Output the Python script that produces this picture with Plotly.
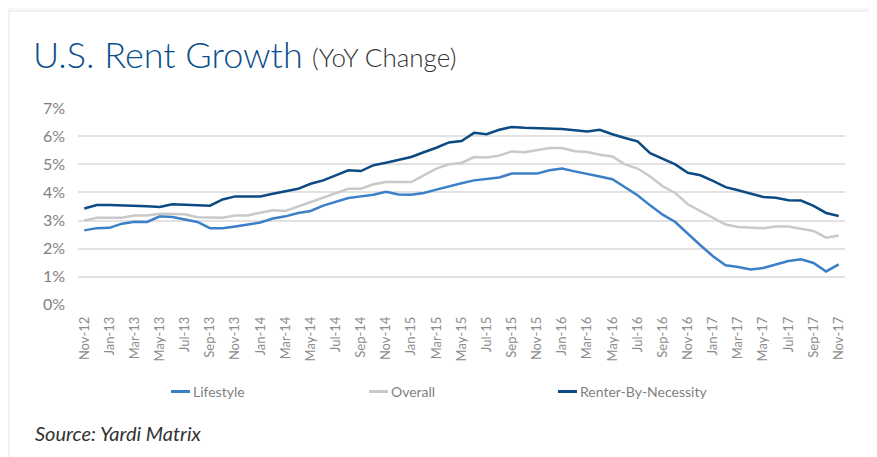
import pandas as pd
import plotly.graph_objects as go

months = list(pd.date_range("2012-11-01", periods=61, freq="MS").strftime("%b-%y"))
tick_labels = months[::2]

lifestyle = [2.65, 2.73, 2.74, 2.89, 2.96, 2.95, 3.15, 3.13, 3.04, 2.95,
             2.73, 2.73, 2.79, 2.86, 2.93, 3.07, 3.15, 3.27, 3.34, 3.53,
             3.66, 3.80, 3.86, 3.92, 4.02, 3.93, 3.92, 3.98, 4.10, 4.22,
             4.33, 4.43, 4.48, 4.53, 4.67, 4.67, 4.67, 4.79, 4.85, 4.75,
             4.67, 4.57, 4.47, 4.19, 3.90, 3.54, 3.21, 2.95, 2.53, 2.12,
             1.73, 1.41, 1.35, 1.26, 1.31, 1.43, 1.56, 1.62, 1.49, 1.19, 1.44]

overall = [3.00, 3.10, 3.10, 3.10, 3.18, 3.18, 3.24, 3.24, 3.22, 3.12,
           3.10, 3.10, 3.18, 3.18, 3.28, 3.37, 3.34, 3.50, 3.66, 3.81,
           3.98, 4.13, 4.13, 4.29, 4.37, 4.37, 4.37, 4.61, 4.85, 5.00,
           5.05, 5.26, 5.24, 5.31, 5.46, 5.43, 5.50, 5.58, 5.58, 5.47,
           5.44, 5.34, 5.28, 5.00, 4.85, 4.57, 4.22, 3.98, 3.58, 3.34,
           3.10, 2.86, 2.77, 2.75, 2.73, 2.79, 2.79, 2.71, 2.63, 2.39, 2.47]

rbn = [3.43, 3.55, 3.55, 3.54, 3.53, 3.51, 3.48, 3.58, 3.56, 3.55,
       3.53, 3.75, 3.86, 3.86, 3.86, 3.95, 4.04, 4.13, 4.31, 4.43,
       4.61, 4.79, 4.76, 4.97, 5.06, 5.15, 5.26, 5.43, 5.59, 5.78,
       5.83, 6.12, 6.07, 6.23, 6.33, 6.30, 6.28, 6.27, 6.26, 6.21,
       6.17, 6.23, 6.07, 5.94, 5.82, 5.40, 5.19, 5.00, 4.70, 4.61,
       4.41, 4.19, 4.08, 3.96, 3.84, 3.81, 3.72, 3.71, 3.52, 3.27, 3.16]

series_names = ["Lifestyle", "Overall", "Renter-By-Necessity"]
series_colors = ["#3b7fc9", "#c9c9c9", "#0b4a82"]

OFF = 8  # page body margin
W, H = 877 - OFF, 457 - OFF
ML, MR, MT, MB = 78 - OFF, 32, 108 - OFF, 152
PW, PH = W - ML - MR, H - MT - MB


def px(x):
    return (x - OFF - ML) / PW


def py(y):
    return (H - MB - (y - OFF)) / PH


fig = go.Figure()
for name, vals, col in zip(series_names, [lifestyle, overall, rbn], series_colors):
    fig.add_trace(go.Scatter(x=months, y=vals, mode="lines", name=name,
                             line=dict(color=col, width=2.5), showlegend=False))

FONT = "Lato"
shapes = [
    dict(type="rect", xref="paper", yref="paper", x0=px(9), x1=px(874), y0=py(470), y1=py(11),
         fillcolor="white", line=dict(color="#e6e6e6", width=1), layer="below"),
]
annotations = [
    dict(xref="paper", yref="paper", x=px(31), y=py(54), xanchor="left", yanchor="middle",
         text="U.S. Rent Growth", showarrow=False,
         font=dict(family=FONT, size=36, color="#0b4f8c", weight=300)),
    dict(xref="paper", yref="paper", x=px(310), y=py(57), xanchor="left", yanchor="middle",
         text="(YoY Change)", showarrow=False,
         font=dict(family=FONT, size=26, color="#333333", weight=300)),
    dict(xref="paper", yref="paper", x=px(33), y=py(433), xanchor="left", yanchor="middle",
         text="<i>Source: Yardi Matrix</i>", showarrow=False,
         font=dict(family=FONT, size=20, color="#333333")),
]
leg_x = [171, 369, 558]
for lx, name, col in zip(leg_x, series_names, series_colors):
    shapes.append(dict(type="line", xref="paper", yref="paper", x0=px(lx), x1=px(lx + 19),
                       y0=py(391.5), y1=py(391.5), line=dict(color=col, width=3)))
    annotations.append(dict(xref="paper", yref="paper", x=px(lx + 20), y=py(391.5),
                            xanchor="left", yanchor="middle", text=name, showarrow=False,
                            font=dict(family=FONT, size=14, color="#7f7f7f")))

fig.update_layout(
    width=W, height=H,
    margin=dict(l=ML, r=MR, t=MT, b=MB, pad=0),
    paper_bgcolor="#f7f7f7", plot_bgcolor="white",
    shapes=shapes, annotations=annotations,
    xaxis=dict(type="category", categoryorder="array", categoryarray=months,
               range=[-0.5, 60.5], tickmode="array", tickvals=tick_labels, ticktext=tick_labels,
               tickangle=-90, showgrid=False, zeroline=False, showline=False, ticks="",
               ticklabelstandoff=8,
               tickfont=dict(family=FONT, size=13, color="#8c8c8c")),
    yaxis=dict(range=[-0.005, 7.005], dtick=1, tick0=0, ticksuffix="%",
               gridcolor="#e2e2e2", gridwidth=1.5, zeroline=False, showline=False, ticks="",
               ticklabelstandoff=12,
               tickfont=dict(family=FONT, size=16, color="#7f7f7f")),
)

fig.write_html("out.html")
